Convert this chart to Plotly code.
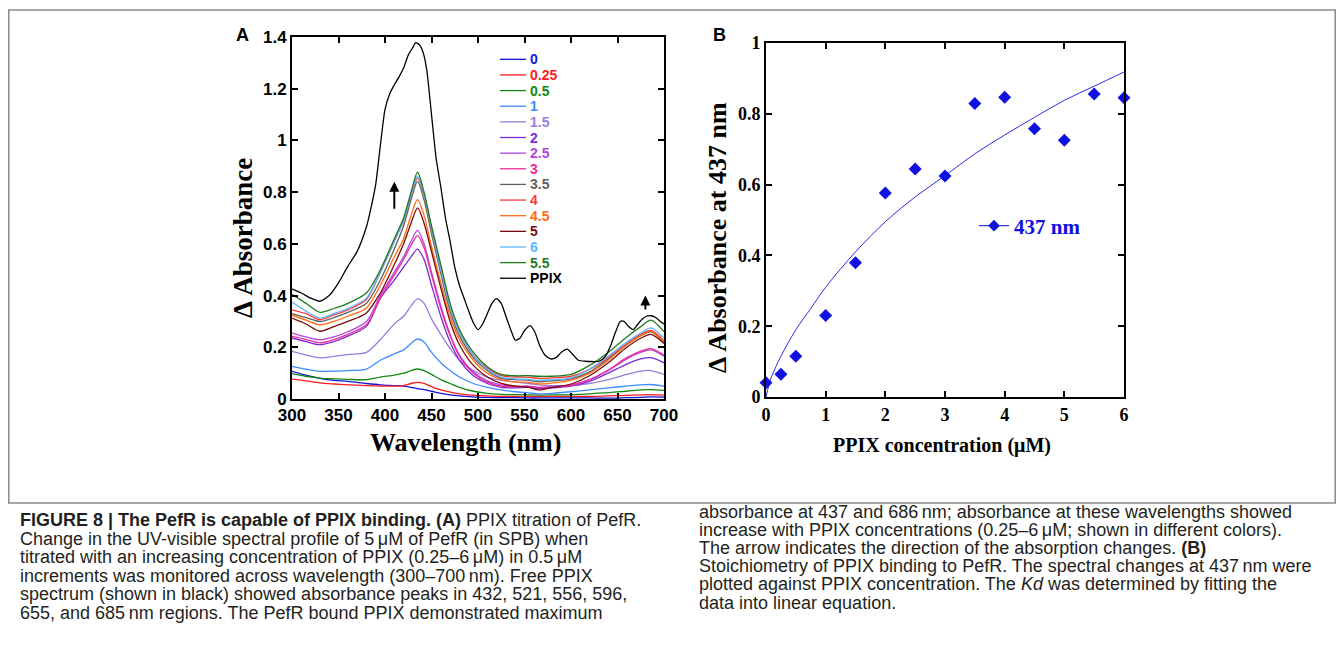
import plotly.graph_objects as go

W, H = 1344, 656
OFF = 8  # the page body margin shifts the figure by 8 px
FW, FH = W - 2 * OFF, H - 2 * OFF

# ---- Panel A: titration spectra ----
WL = [300, 315, 330, 345, 360, 380, 395, 410, 420, 428, 435, 442, 450, 460, 470,
      480, 495, 510, 525, 540, 555, 565, 580, 600, 620, 640, 660, 675, 686, 700]

S_0 = [0.107, 0.092, 0.080, 0.072, 0.068, 0.060, 0.055, 0.052, 0.050, 0.045, 0.040, 0.036, 0.030, 0.022, 0.016,
       0.012, 0.008, 0.006, 0.005, 0.005, 0.004, 0.004, 0.004, 0.004, 0.004, 0.003, 0.005, 0.006, 0.008, 0.007]
S_025 = [0.077, 0.070, 0.062, 0.058, 0.055, 0.052, 0.050, 0.050, 0.052, 0.060, 0.064, 0.060, 0.048, 0.035, 0.027,
         0.020, 0.015, 0.012, 0.010, 0.010, 0.010, 0.010, 0.010, 0.010, 0.010, 0.012, 0.014, 0.016, 0.017, 0.015]
S_05 = [0.098, 0.088, 0.081, 0.078, 0.076, 0.075, 0.085, 0.092, 0.100, 0.110, 0.116, 0.110, 0.095, 0.075, 0.060,
        0.045, 0.030, 0.022, 0.018, 0.017, 0.016, 0.015, 0.016, 0.017, 0.020, 0.025, 0.030, 0.035, 0.036, 0.033]
S_1 = [0.126, 0.115, 0.107, 0.108, 0.110, 0.116, 0.150, 0.175, 0.190, 0.215, 0.232, 0.220, 0.180, 0.140, 0.110,
       0.085, 0.060, 0.045, 0.035, 0.028, 0.024, 0.020, 0.022, 0.028, 0.035, 0.043, 0.050, 0.055, 0.056, 0.050]
S_15 = [0.184, 0.170, 0.159, 0.165, 0.172, 0.180, 0.230, 0.290, 0.320, 0.360, 0.387, 0.370, 0.310, 0.250, 0.195,
        0.150, 0.110, 0.085, 0.072, 0.066, 0.060, 0.055, 0.052, 0.052, 0.060, 0.075, 0.095, 0.108, 0.110, 0.095]
S_2 = [0.236, 0.222, 0.210, 0.222, 0.243, 0.281, 0.390, 0.460, 0.510, 0.550, 0.580, 0.540, 0.440, 0.320, 0.220,
       0.150, 0.090, 0.060, 0.045, 0.043, 0.045, 0.040, 0.043, 0.050, 0.068, 0.100, 0.135, 0.155, 0.160, 0.140]
S_25 = [0.255, 0.240, 0.229, 0.240, 0.260, 0.300, 0.400, 0.490, 0.550, 0.610, 0.652, 0.600, 0.490, 0.360, 0.250,
        0.170, 0.105, 0.070, 0.055, 0.050, 0.050, 0.045, 0.048, 0.055, 0.075, 0.110, 0.155, 0.180, 0.190, 0.165]
S_3 = [0.242, 0.230, 0.217, 0.230, 0.250, 0.287, 0.390, 0.480, 0.540, 0.595, 0.632, 0.585, 0.480, 0.350, 0.245,
       0.165, 0.100, 0.065, 0.050, 0.047, 0.048, 0.044, 0.046, 0.053, 0.075, 0.112, 0.160, 0.185, 0.195, 0.170]
S_35 = [0.330, 0.315, 0.300, 0.315, 0.335, 0.370, 0.460, 0.580, 0.670, 0.770, 0.842, 0.770, 0.640, 0.485, 0.340,
        0.245, 0.160, 0.110, 0.080, 0.075, 0.072, 0.066, 0.070, 0.078, 0.105, 0.155, 0.210, 0.245, 0.260, 0.220]
S_4 = [0.345, 0.330, 0.307, 0.325, 0.345, 0.385, 0.490, 0.610, 0.690, 0.785, 0.855, 0.785, 0.655, 0.500, 0.355,
       0.260, 0.170, 0.120, 0.090, 0.085, 0.084, 0.080, 0.082, 0.088, 0.115, 0.160, 0.215, 0.250, 0.265, 0.225]
S_45 = [0.325, 0.305, 0.287, 0.300, 0.320, 0.352, 0.440, 0.550, 0.620, 0.710, 0.771, 0.710, 0.590, 0.450, 0.320,
        0.230, 0.150, 0.100, 0.075, 0.066, 0.064, 0.058, 0.062, 0.072, 0.100, 0.150, 0.210, 0.245, 0.262, 0.220]
S_5 = [0.313, 0.290, 0.262, 0.280, 0.300, 0.333, 0.410, 0.520, 0.600, 0.680, 0.739, 0.680, 0.570, 0.430, 0.300,
       0.210, 0.130, 0.085, 0.060, 0.050, 0.045, 0.035, 0.045, 0.058, 0.090, 0.140, 0.200, 0.235, 0.250, 0.215]
S_6 = [0.375, 0.340, 0.313, 0.330, 0.350, 0.390, 0.490, 0.610, 0.690, 0.790, 0.862, 0.790, 0.660, 0.500, 0.355,
       0.260, 0.170, 0.115, 0.085, 0.078, 0.076, 0.072, 0.075, 0.082, 0.115, 0.165, 0.220, 0.255, 0.275, 0.235]
S_55 = [0.405, 0.370, 0.335, 0.350, 0.370, 0.410, 0.500, 0.620, 0.700, 0.800, 0.877, 0.800, 0.670, 0.520, 0.370,
        0.270, 0.180, 0.125, 0.095, 0.090, 0.090, 0.088, 0.088, 0.095, 0.130, 0.180, 0.240, 0.280, 0.305, 0.260]

PPIX_WL = [300, 310, 320, 330, 340, 350, 360, 370, 380, 385, 390, 395, 400, 405, 410, 415, 420, 425,
           430, 433, 437, 441, 445, 450, 455, 460, 465, 470, 475, 480, 485, 490, 495, 500, 505, 510,
           515, 520, 525, 530, 535, 540, 545, 550, 556, 561, 566, 572, 578, 584, 590, 596, 602, 608,
           615, 622, 630, 637, 643, 648, 653, 657, 662, 667, 672, 677, 681, 686, 691, 696, 700]
PPIX = [0.425, 0.410, 0.390, 0.378, 0.400, 0.449, 0.513, 0.570, 0.665, 0.740, 0.830, 0.980, 1.120, 1.180,
        1.215, 1.245, 1.280, 1.330, 1.360, 1.378, 1.370, 1.340, 1.270, 1.100, 0.930, 0.820, 0.700, 0.610,
        0.510, 0.440, 0.390, 0.340, 0.295, 0.268, 0.290, 0.330, 0.370, 0.388, 0.370, 0.320, 0.270, 0.228,
        0.235, 0.265, 0.284, 0.260, 0.210, 0.170, 0.155, 0.160, 0.182, 0.193, 0.172, 0.150, 0.146, 0.145,
        0.146, 0.165, 0.210, 0.260, 0.300, 0.300, 0.280, 0.268, 0.290, 0.310, 0.320, 0.322, 0.315, 0.300, 0.290]

NAMES = ["0", "0.25", "0.5", "1", "1.5", "2", "2.5", "3", "3.5", "4", "4.5", "5", "6", "5.5"]
SPECTRA = [S_0, S_025, S_05, S_1, S_15, S_2, S_25, S_3, S_35, S_4, S_45, S_5, S_6, S_55]
COLORS = ["#1414d8", "#ff1a1a", "#128a12", "#3d8bff", "#9a7ce0", "#7a2ad8", "#b048e0",
          "#f0289a", "#606060", "#ff3b3b", "#ff6a10", "#7a0a0a", "#5ab4ff", "#1f7a1f"]

# ---- Panel B: 437 nm change vs PPIX concentration ----
CONC = [0, 0.25, 0.5, 1, 1.5, 2, 2.5, 3, 3.5, 4, 4.5, 5, 5.5, 6]
DA437 = [0.040, 0.064, 0.115, 0.230, 0.379, 0.576, 0.644, 0.624, 0.829, 0.847, 0.758, 0.725, 0.856, 0.845]
FIT_X = [0, 0.05, 0.1, 0.25, 0.5, 0.75, 1, 1.5, 2, 2.5, 3, 3.5, 4, 4.5, 5, 5.5, 6]
FIT_Y = [0, 0.035, 0.06, 0.115, 0.19, 0.25, 0.31, 0.41, 0.495, 0.565, 0.625, 0.687, 0.74, 0.79, 0.838, 0.878, 0.918]

fig = go.Figure()

for name, vals, col in zip(NAMES, SPECTRA, COLORS):
    fig.add_trace(go.Scatter(
        x=WL, y=vals, mode="lines", name=name, showlegend=False,
        line=dict(color=col, width=1.3, shape="spline", smoothing=0.8),
        xaxis="x", yaxis="y"))

fig.add_trace(go.Scatter(
    x=PPIX_WL, y=PPIX, mode="lines", name="PPIX", showlegend=False,
    line=dict(color="black", width=1.3, shape="spline", smoothing=0.6),
    xaxis="x", yaxis="y"))

blue = "#1010e0"
fig.add_trace(go.Scatter(
    x=FIT_X, y=FIT_Y, mode="lines", showlegend=False,
    line=dict(color="#2a2ae6", width=1, shape="spline"),
    xaxis="x2", yaxis="y2"))
fig.add_trace(go.Scatter(
    x=CONC, y=DA437, mode="markers", showlegend=False, cliponaxis=False,
    marker=dict(symbol="diamond", size=10, color=blue),
    xaxis="x2", yaxis="y2"))
# legend entry for panel B
fig.add_trace(go.Scatter(
    x=[None], y=[None], mode="lines+markers", name="437 nm", showlegend=True,
    line=dict(color=blue, width=1), marker=dict(symbol="diamond", size=9, color=blue),
    xaxis="x2", yaxis="y2"))


def px(x):
    return (x - OFF) / FW


def py(y):
    return 1 - (y - OFF) / FH


sans = "Liberation Sans"
serif = "Liberation Serif"
axis_common = dict(showline=True, linecolor="black", linewidth=2, mirror="ticks",
                   ticks="inside", ticklen=6, tickwidth=1.5, tickcolor="black",
                   showgrid=False, zeroline=False)

fig.update_layout(
    width=FW, height=FH,
    margin=dict(l=0, r=0, t=0, b=0, autoexpand=False),
    paper_bgcolor="white", plot_bgcolor="white",
    xaxis=dict(domain=[px(292), px(664)], range=[300, 700], dtick=50, anchor="y",
               tickfont=dict(family=sans, size=17, color="black", weight="bold"), **axis_common),
    yaxis=dict(domain=[py(399), py(37)], range=[0, 1.4], dtick=0.2, anchor="x",
               tickfont=dict(family=sans, size=17, color="black", weight="bold"), **axis_common),
    xaxis2=dict(domain=[px(766), px(1124)], range=[0, 6], dtick=1, anchor="y2",
                tickfont=dict(family=serif, size=18, color="black", weight="bold"), **axis_common),
    yaxis2=dict(domain=[py(397), py(43)], range=[0, 1], dtick=0.2, anchor="x2",
                tickfont=dict(family=serif, size=18, color="black", weight="bold"), **axis_common),
    legend=dict(x=px(974), y=py(226), xanchor="left", yanchor="middle",
                bgcolor="rgba(0,0,0,0)", itemwidth=30,
                font=dict(family=serif, size=21, color=blue, weight="bold")),
    showlegend=True,
)

ann = []
# panel letters
ann.append(dict(text="<b>A</b>", x=px(242), y=py(35), font=dict(family=sans, size=18, color="black")))
ann.append(dict(text="<b>B</b>", x=px(719), y=py(35), font=dict(family=sans, size=18, color="black")))
# axis titles
ann.append(dict(text="<b>Wavelength (nm)</b>", x=px(465), y=py(442), font=dict(family=serif, size=26, color="black")))
ann.append(dict(text="<b>Δ Absorbance</b>", x=px(243), y=py(238), textangle=-90,
                font=dict(family=serif, size=27, color="black")))
ann.append(dict(text="<b>PPIX concentration (μM)</b>", x=px(942), y=py(445),
                font=dict(family=serif, size=20, color="black")))
ann.append(dict(text="<b>Δ Absorbance at 437 nm</b>", x=px(717), y=py(238), textangle=-90,
                font=dict(family=serif, size=26, color="black")))
for a in ann:
    a.update(xref="paper", yref="paper", showarrow=False, xanchor="center", yanchor="middle")

# legend of panel A, drawn as short line samples with coloured labels
LEG_NAMES = NAMES + ["PPIX"]
LEG_COLORS = COLORS + ["#000000"]
for i, (name, col) in enumerate(zip(LEG_NAMES, LEG_COLORS)):
    yy = 59.3 + i * 15.64
    fig.add_shape(type="line", xref="paper", yref="paper", x0=px(500), x1=px(526), y0=py(yy), y1=py(yy),
                  line=dict(color=col, width=1.3))
    ann.append(dict(text=f"<b>{name}</b>", x=px(528), y=py(yy), xref="paper", yref="paper",
                    showarrow=False, xanchor="left", yanchor="middle",
                    font=dict(family=sans, size=14, color=col)))

# direction arrows in panel A
for ax_x, y0, y1 in [(410, 0.73, 0.84), (680, 0.34, 0.40)]:
    ann.append(dict(x=ax_x, y=y1, ax=ax_x, ay=y0, xref="x", yref="y", axref="x", ayref="y",
                    showarrow=True, arrowhead=2, arrowsize=1, arrowwidth=2, arrowcolor="black", text=""))

# caption
cap_font = dict(family=sans, size=18, color="#231f20")
LEFT = [
    "<b>FIGURE 8 | The PefR is capable of PPIX binding. (A)</b> PPIX titration of PefR.",
    "Change in the UV-visible spectral profile of 5\u2009μM of PefR (in SPB) when",
    "titrated with an increasing concentration of PPIX (0.25–6\u2009μM) in 0.5\u2009μM",
    "increments was monitored across wavelength (300–700\u2009nm). Free PPIX",
    "spectrum (shown in black) showed absorbance peaks in 432, 521, 556, 596,",
    "655, and 685\u2009nm regions. The PefR bound PPIX demonstrated maximum",
]
RIGHT = [
    "absorbance at 437 and 686\u2009nm; absorbance at these wavelengths showed",
    "increase with PPIX concentrations (0.25–6\u2009μM; shown in different colors).",
    "The arrow indicates the direction of the absorption changes. <b>(B)</b>",
    "Stoichiometry of PPIX binding to PefR. The spectral changes at 437\u2009nm were",
    "plotted against PPIX concentration. The <i>Kd</i> was determined by fitting the",
    "data into linear equation.",
]
for i, line in enumerate(LEFT):
    ann.append(dict(text=line, x=px(18), y=py(520 + i * 18.5), xref="paper", yref="paper",
                    showarrow=False, xanchor="left", yanchor="middle", font=cap_font))
for i, line in enumerate(RIGHT):
    ann.append(dict(text=line, x=px(697), y=py(512 + i * 18.1), xref="paper", yref="paper",
                    showarrow=False, xanchor="left", yanchor="middle", font=cap_font))

fig.update_layout(annotations=ann)

# frame around figure panels
fig.add_shape(type="rect", xref="paper", yref="paper", x0=px(8.8), x1=px(1335.2), y0=py(503), y1=py(10),
              line=dict(color="#8a8a8a", width=1.5))

fig.write_html("out.html")
